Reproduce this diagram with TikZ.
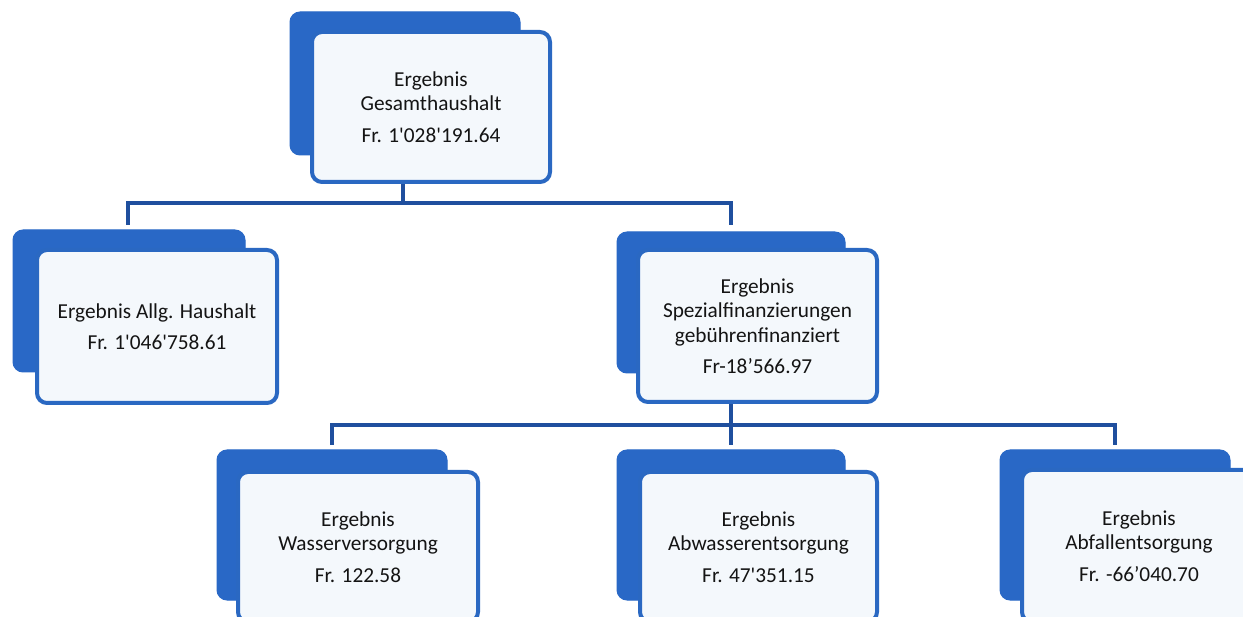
\documentclass[tikz,border=0pt]{standalone}
\usepackage{fontspec}
\setmainfont{Carlito}[Ligatures=TeXOff]
\definecolor{backblue}{HTML}{2968C6}
\definecolor{lineblue}{HTML}{2A68C2}
\definecolor{linkblue}{HTML}{1F4F9E}
\definecolor{frontfill}{HTML}{F4F8FC}
\definecolor{textcol}{HTML}{141414}
\begin{document}
\begin{tikzpicture}[x=1pt,y=-1pt,
  backbox/.style={fill=backblue, draw=backblue, line width=1pt, rounded corners=10pt},
  frontbox/.style={fill=frontfill, draw=lineblue, line width=4pt, rounded corners=10pt,
    align=center, text=textcol, font=\fontsize{21.3}{24.5}\selectfont, inner sep=0pt},
  link/.style={draw=linkblue, line width=4pt, line cap=rect}]
\useasboundingbox (0,0) rectangle (1243,617);
\fill[white] (0,0) rectangle (1243,617);
\clip (0,0) rectangle (1243,617);

% connector coordinates
\coordinate (tj) at (403,182);
\coordinate (bar1) at (403,203);
\coordinate (allgin) at (128,223);
\coordinate (spezin) at (731,223);
\coordinate (sj) at (731,402);
\coordinate (bar2) at (731,425);
\coordinate (wasin) at (332,443);
\coordinate (abwin) at (731,443);
\coordinate (abfin) at (1115,443);

\draw[link] (tj) -- (bar1);
\draw[link] (allgin) |- (bar1) -| (spezin);
\draw[link] (sj) -- (abwin);
\draw[link] (wasin) |- (bar2) -| (abfin);

% back boxes
\draw[backbox] (290,12) rectangle (520,155);
\draw[backbox] (13,230) rectangle (245,372);
\draw[backbox] (617,232) rectangle (845,373);
\draw[backbox] (217,450) rectangle (447,600);
\draw[backbox] (617,450) rectangle (845,600);
\draw[backbox] (1000,450) rectangle (1230,600);

% front boxes
\node[frontbox, minimum width=238pt, minimum height=150pt] (top) at (431,107)
  {Ergebnis\\Gesamthaushalt\\[7pt]Fr. 1'028'191.64};
\node[frontbox, minimum width=240pt, minimum height=153pt] (allg) at (157,326.5)
  {Ergebnis Allg. Haushalt\\[7pt]Fr. 1'046'758.61};
\node[frontbox, minimum width=239pt, minimum height=152pt] (spez) at (757.5,326)
  {Ergebnis\\Spezialfinanzierungen\\gebührenfinanziert\\[7pt]Fr-18’566.97};
\node[frontbox, minimum width=240pt, minimum height=150pt] (wasser) at (358,547)
  {Ergebnis\\Wasserversorgung\\[7pt]Fr. 122.58};
\node[frontbox, minimum width=237pt, minimum height=150pt] (abwasser) at (758.5,547)
  {Ergebnis\\Abwasserentsorgung\\[7pt]Fr. 47'351.15};
\node[frontbox, minimum width=234pt, minimum height=152pt] (abfall) at (1139,546)
  {Ergebnis\\Abfallentsorgung\\[7pt]Fr. -66’040.70};
\end{tikzpicture}
\end{document}
